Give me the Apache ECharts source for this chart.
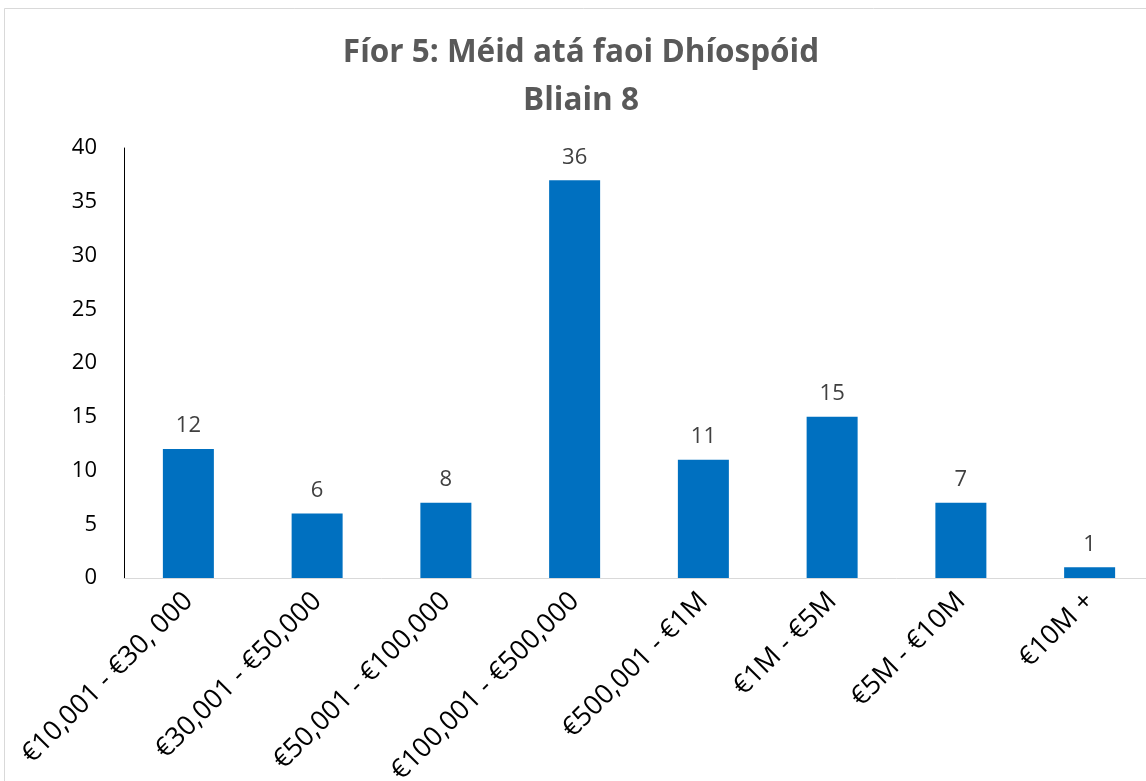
<!DOCTYPE html>
<html>
<head>
<meta charset="utf-8">
<script src="https://cdn.jsdelivr.net/npm/echarts@6/dist/echarts.min.js"></script>
<style>
  html, body { margin: 0; padding: 0; background: #fff; overflow: hidden; }
  /* the plot runs slightly past the right edge in the original, so the canvas is wider than the window */
  #chart { width: 1162px; height: 781px; }
</style>
</head>
<body>
<div id="chart"></div>
<script>
// categories (disputed amount bands)
const categories = ['€10,001 - €30, 000', '€30,001 - €50,000', '€50,001 - €100,000', '€100,001 - €500,000',
  '€500,001 - €1M', '€1M - €5M', '€5M - €10M', '€10M +']
// bar heights as drawn in the picture
const barValues = [12, 6, 7, 37, 11, 15, 7, 1]
// data labels as printed above each bar
const barLabels = ['12', '6', '8', '36', '11', '15', '7', '1']
const yTicks = { min: 0, max: 40, interval: 5 }

const font = "'Open Sans', sans-serif"

const chart = echarts.init(document.getElementById('chart'))
chart.setOption({
  animation: false,
  backgroundColor: '#fff',
  textStyle: { fontFamily: font },
  graphic: [{
    // chart area frame
    type: 'rect',
    shape: { x: 4.5, y: 8.5, width: 1200, height: 900 },
    style: { fill: 'none', stroke: '#d9d9d9', lineWidth: 1 },
    silent: true
  }],
  title: {
    text: 'Fíor 5: Méid atá faoi Dhíospóid\nBliain 8',
    left: 576,
    top: 24,
    textAlign: 'center',
    textStyle: {
      fontFamily: font,
      fontWeight: 'bold',
      fontSize: 31.5,
      lineHeight: 48,
      color: '#595959'
    }
  },
  grid: {
    left: 124,
    top: 148,
    width: 1030,
    height: 430,
    containLabel: false,
    outerBoundsMode: 'none'
  },
  xAxis: {
    type: 'category',
    data: categories,
    axisLine: { show: true, lineStyle: { color: '#d9d9d9', width: 1 } },
    axisTick: { show: false },
    axisLabel: {
      rotate: 45,
      interval: 0,
      margin: 19,
      fontSize: 27,
      color: '#000',
      fontFamily: font
    }
  },
  yAxis: {
    type: 'value',
    min: yTicks.min,
    max: yTicks.max,
    interval: yTicks.interval,
    splitLine: { show: false },
    axisLine: { show: true, lineStyle: { color: '#000', width: 1 } },
    axisTick: { show: false },
    axisLabel: {
      margin: 27,
      fontSize: 22,
      color: '#000',
      fontFamily: font
    }
  },
  series: [{
    type: 'bar',
    data: barValues,
    barWidth: 51,
    itemStyle: { color: '#0070C0' },
    label: {
      show: true,
      position: 'top',
      distance: 12,
      fontSize: 22,
      color: '#404040',
      fontFamily: font,
      formatter: p => barLabels[p.dataIndex]
    }
  }]
})
</script>
</body>
</html>
